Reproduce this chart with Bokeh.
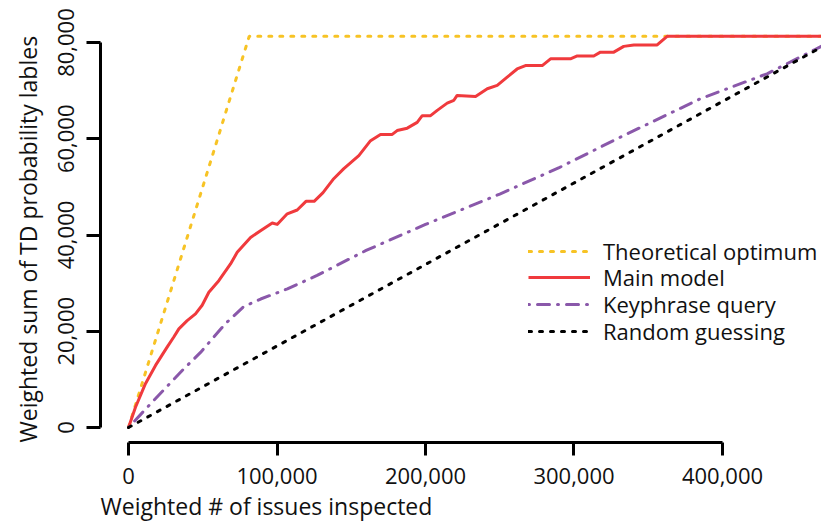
from bokeh.plotting import figure
from bokeh.models import (Range1d, FixedTicker, NumeralTickFormatter, Legend, LegendItem, Title)
from bokeh.embed import file_html
from bokeh.resources import INLINE

opt_x = [0, 81300, 480000]
opt_y = [0, 81300, 81300]

main_x = [0, 4700, 11400, 18200, 26000, 30500, 33900, 39500, 45100, 49600, 54100, 60800,
          68700, 73200, 82200, 88900, 96800, 100100, 106900, 113600, 119500, 125000, 131000,
          138200, 145000, 155100, 163000, 169700, 177600, 180900, 187700, 194400, 197800,
          203400, 207900, 214600, 219100, 221300, 233700, 241600, 248300, 255000, 261700,
          267300, 278600, 284200, 297600, 302200, 313300, 317800, 326800, 333500, 340300,
          356000, 362700, 480000]
main_y = [0, 4200, 9100, 12900, 16700, 18800, 20500, 22200, 23600, 25400, 28100, 30500,
          34000, 36400, 39500, 40900, 42500, 42200, 44400, 45200, 47000, 47000, 48800,
          51700, 53800, 56500, 59600, 60900, 60900, 61700, 62200, 63400, 64800,
          64800, 65900, 67400, 68000, 69000, 68800, 70400, 71100, 72800, 74500,
          75200, 75200, 76600, 76600, 77200, 77200, 78000, 78000, 79200, 79500,
          79500, 81300, 81300]

key_x = [0, 16000, 36000, 48500, 65000, 77500, 89000, 107000, 127000, 160000, 200000,
         250000, 290000, 331000, 385000, 430000, 462000, 480000]
key_y = [0, 5300, 11800, 15600, 21500, 25100, 26700, 28800, 31600, 36800, 42200,
         48500, 54000, 60300, 68300, 73500, 78500, 81300]

rand_x = [0, 480000]
rand_y = [0, 81300]

x_ticks = [0, 100000, 200000, 300000, 400000]
y_ticks = [0, 20000, 40000, 60000, 80000]

labels = ["Theoretical optimum", "Main model", "Keyphrase query", "Random guessing"]
x_label = "Weighted # of issues inspected"
y_label = "Weighted sum of TD probability lables"

FONT = "Open Sans"
FS = "22px"
FS_LAB = "23px"
TXT = "#111111"

p = figure(width=821, height=523, output_backend="svg", toolbar_location=None,
           x_range=Range1d(-18860, 466670), y_range=Range1d(-3117, 84782),
           min_border_left=100, min_border_right=0, min_border_top=19, min_border_bottom=81)
p.outline_line_color = None
p.xgrid.grid_line_color = None
p.ygrid.grid_line_color = None
p.background_fill_color = "white"
p.border_fill_color = "white"

r_opt = p.line(opt_x, opt_y, line_color="#F7C325", line_width=3, line_dash="3 8", line_cap="round")
r_main = p.line(main_x, main_y, line_color="#F03A3D", line_width=3, line_join="round")
r_key = p.line(key_x, key_y, line_color="#8A58AA", line_width=3, line_dash="1 8 12 8", line_cap="round")
r_rand = p.line(rand_x, rand_y, line_color="black", line_width=3, line_dash="3 8", line_cap="round")

for ax, ticks, bounds, tick_out in ((p.xaxis[0], x_ticks, (0, 400000), 13), (p.yaxis[0], y_ticks, (0, 80000), 14)):
    ax.ticker = FixedTicker(ticks=ticks)
    ax.formatter = NumeralTickFormatter(format="0,0")
    ax.bounds = bounds
    ax.axis_line_width = 3
    ax.axis_line_color = "black"
    ax.major_tick_line_width = 3
    ax.major_tick_line_color = "black"
    ax.major_tick_out = tick_out
    ax.major_tick_in = 0
    ax.minor_tick_line_color = None
    ax.major_label_text_font = FONT
    ax.major_label_text_font_size = FS
    ax.major_label_text_color = TXT

p.xaxis[0].major_label_standoff = 12
p.yaxis[0].major_label_orientation = "vertical"
p.yaxis[0].major_label_standoff = 12

xt = Title(text=x_label, align="left", text_font=FONT, text_font_size=FS_LAB,
           text_font_style="normal", text_color=TXT, standoff=3)
p.add_layout(xt, "below")
yt = Title(text=y_label, align="left", vertical_align="top", text_font=FONT,
           text_font_size=FS_LAB, text_font_style="normal", text_color=TXT, standoff=19)
p.add_layout(yt, "left")

# one legend per entry so the row pitch matches the reference
legend_rows = [(r_opt, 176), (r_main, 150), (r_key, 123), (r_rand, 96)]
for lab, (rend, ypos) in zip(labels, legend_rows):
    lg = Legend(items=[LegendItem(label=lab, renderers=[rend])], location=(428, ypos))
    lg.label_text_font = FONT
    lg.label_text_font_size = FS
    lg.label_text_color = TXT
    lg.glyph_width = 62
    lg.glyph_height = 24
    lg.label_height = 24
    lg.label_standoff = 13
    lg.padding = 0
    lg.margin = 0
    lg.border_line_color = None
    lg.background_fill_alpha = 0
    p.add_layout(lg, "center")

open("out.html", "w").write(file_html(p, INLINE))
